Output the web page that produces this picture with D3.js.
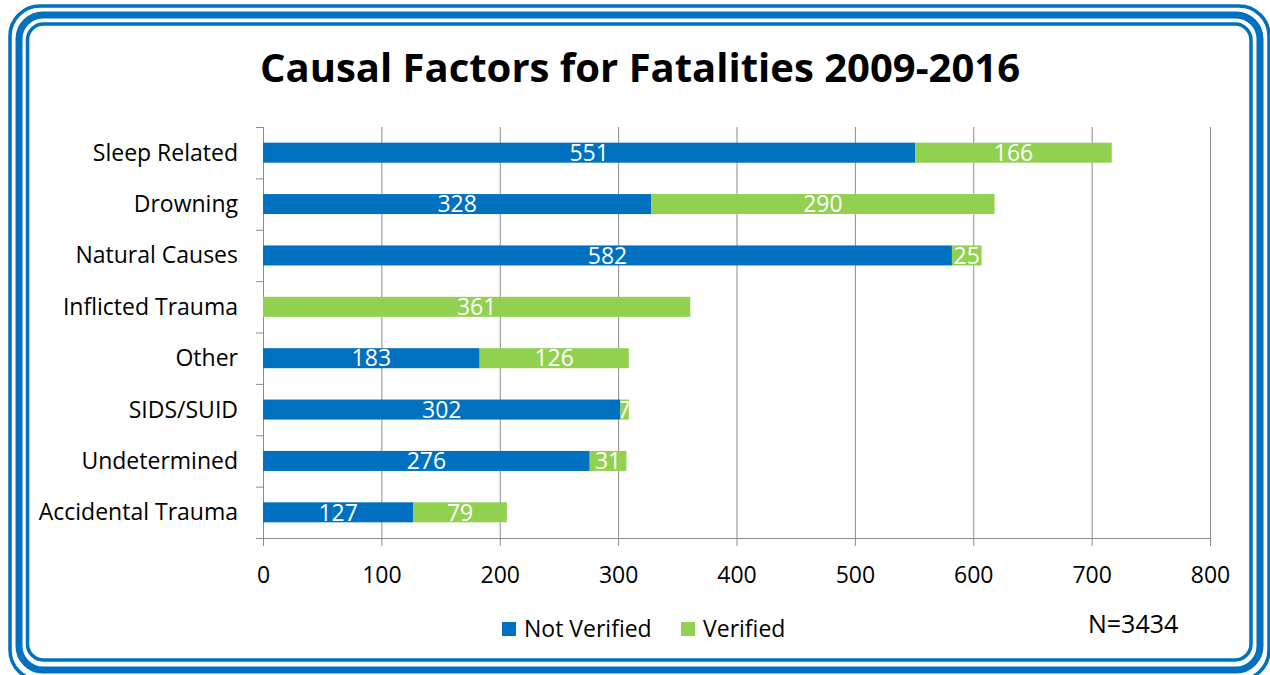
<!DOCTYPE html>
<html><head><meta charset="utf-8">
<script src="https://cdn.jsdelivr.net/npm/d3@7"></script>
<style>body{margin:0;background:#fff}svg{display:block}</style>
</head><body>
<svg id="c" width="1270" height="675"></svg>
<script>
const categories = ["Sleep Related","Drowning","Natural Causes","Inflicted Trauma","Other","SIDS/SUID","Undetermined","Accidental Trauma"];
const notVerified = [551,328,582,0,183,302,276,127];
const verified = [166,290,25,361,126,7,31,79];
const xTicks = [0,100,200,300,400,500,600,700,800];
const seriesNames = ["Not Verified","Verified"];
const colors = ["#0070C0","#92D050"];
const title = "Causal Factors for Fatalities 2009-2016";
const note = "N=3434";

const svg = d3.select("#c");
const font = "'Open Sans', 'Liberation Sans', sans-serif";

// frame
const B = "#0070C0";
svg.append("rect").attr("x",10).attr("y",6).attr("width",1259).attr("height",674).attr("rx",30)
  .attr("fill","none").attr("stroke",B).attr("stroke-width",3.5);
svg.append("rect").attr("x",19).attr("y",15).attr("width",1241).attr("height",655).attr("rx",24)
  .attr("fill","none").attr("stroke",B).attr("stroke-width",7);
svg.append("rect").attr("x",27.5).attr("y",24).attr("width",1223.5).attr("height",636).attr("rx",16)
  .attr("fill","none").attr("stroke",B).attr("stroke-width",3.5);

svg.append("text").attr("x",640).attr("y",82).attr("text-anchor","middle")
  .attr("font-family",font).attr("font-weight","bold").attr("font-size",40).attr("fill","#000").text(title);

const x = d3.scaleLinear().domain([0,800]).range([263,1210]);
const y = d3.scaleBand().domain(categories).range([127,538]);

// gridlines
svg.append("g").selectAll("line").data(xTicks).join("line")
  .attr("x1",d=>x(d)+0.5).attr("x2",d=>x(d)+0.5).attr("y1",127).attr("y2",538)
  .attr("stroke","#8c8c8c").attr("stroke-width",1);

// bottom axis
const xa = svg.append("g").attr("transform","translate(0,538)")
  .call(d3.axisBottom(x).tickValues(xTicks).tickSize(8).tickPadding(21).tickFormat(d3.format("d")));
xa.select(".domain").attr("stroke","#8c8c8c");
xa.selectAll(".tick line").attr("stroke","#8c8c8c");
xa.selectAll("text").attr("font-family",font).attr("font-size",23).attr("fill","#000");

// left axis
const boundaries = d3.range(categories.length+1).map(i=>127 + i*y.step());
svg.append("line").attr("x1",263.5).attr("x2",263.5).attr("y1",127).attr("y2",546).attr("stroke","#8c8c8c");
svg.append("g").selectAll("line").data(boundaries).join("line")
  .attr("x1",256).attr("x2",263).attr("y1",d=>d+0.5).attr("y2",d=>d+0.5).attr("stroke","#8c8c8c");
svg.append("g").selectAll("text").data(categories).join("text")
  .attr("x",238).attr("y",d=>y(d)+y.bandwidth()/2).attr("dy","0.35em").attr("text-anchor","end")
  .attr("font-family",font).attr("font-size",23).attr("fill","#000").text(d=>d);

// bars
const barH = 20;
const rows = categories.map((c,i)=>({c, nv:notVerified[i], v:verified[i]}));
const gb = svg.append("g");
rows.forEach(r=>{
  const yc = y(r.c)+y.bandwidth()/2;
  const segs = [{s:0,e:r.nv,col:colors[0],val:r.nv},{s:r.nv,e:r.nv+r.v,col:colors[1],val:r.v}];
  segs.forEach(s=>{
    if(s.val<=0) return;
    gb.append("rect").attr("x",x(s.s)).attr("y",yc-barH/2).attr("width",x(s.e)-x(s.s)).attr("height",barH).attr("fill",s.col);
  });
  segs.forEach(s=>{
    if(s.val<=0) return;
    const cx = (x(s.s)+x(s.e))/2;
    const t = gb.append("text").attr("x",cx).attr("y",yc).attr("dy","0.36em").attr("text-anchor","middle")
      .attr("font-family",font).attr("font-size",23).attr("fill","#fff").text(s.val);
    if(s.val<10){
      const id="clip"+r.c.replace(/\W/g,"");
      gb.append("clipPath").attr("id",id).append("rect").attr("x",x(s.s)).attr("y",yc-barH/2-6).attr("width",x(s.e)-x(s.s)).attr("height",barH+12);
      t.attr("clip-path",`url(#${id})`).attr("text-anchor","start").attr("x",x(s.s)-3);
    }
  });
});

// legend
const lg = svg.append("g");
const legX = [502,681];
seriesNames.forEach((n,i)=>{
  lg.append("rect").attr("x",legX[i]).attr("y",622).attr("width",14).attr("height",14).attr("fill",colors[i]);
  lg.append("text").attr("x",legX[i]+22).attr("y",629).attr("dy","0.36em")
    .attr("font-family",font).attr("font-size",23).attr("fill","#000").text(n);
});
svg.append("text").attr("x",1088).attr("y",624).attr("dy","0.36em")
  .attr("font-family",font).attr("font-size",25).attr("fill","#000").text(note);
</script>
</body></html>
